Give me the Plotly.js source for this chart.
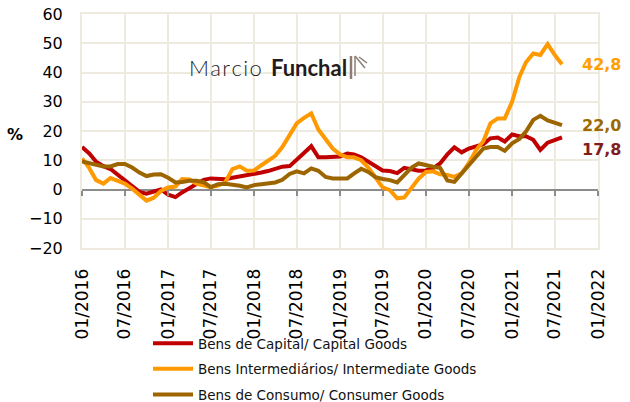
<!DOCTYPE html>
<html><head><meta charset="utf-8">
<script src="https://cdn.plot.ly/plotly-3.0.1.min.js"></script>
<style>html,body{margin:0;padding:0;background:#fff}#chart{width:630px;height:402px}</style>
</head><body><div id="chart"></div>
<script>
const months = [
 '2016-01-01','2016-02-01','2016-03-01','2016-04-01','2016-05-01','2016-06-01','2016-07-01','2016-08-01','2016-09-01','2016-10-01','2016-11-01','2016-12-01',
 '2017-01-01','2017-02-01','2017-03-01','2017-04-01','2017-05-01','2017-06-01','2017-07-01','2017-08-01','2017-09-01','2017-10-01','2017-11-01','2017-12-01',
 '2018-01-01','2018-02-01','2018-03-01','2018-04-01','2018-05-01','2018-06-01','2018-07-01','2018-08-01','2018-09-01','2018-10-01','2018-11-01','2018-12-01',
 '2019-01-01','2019-02-01','2019-03-01','2019-04-01','2019-05-01','2019-06-01','2019-07-01','2019-08-01','2019-09-01','2019-10-01','2019-11-01','2019-12-01',
 '2020-01-01','2020-02-01','2020-03-01','2020-04-01','2020-05-01','2020-06-01','2020-07-01','2020-08-01','2020-09-01','2020-10-01','2020-11-01','2020-12-01',
 '2021-01-01','2021-02-01','2021-03-01','2021-04-01','2021-05-01','2021-06-01','2021-07-01','2021-08-01'];
const capitalGoods = [14.5,12.3,9.5,8,7,5,3,1,-0.8,-1.4,
 -0.6,0,-1.8,-2.6,-1,0.5,2,3.3,3.8,3.8,
 3.5,4,4.4,5,5.4,5.8,6.3,7.2,7.8,8,
 10,12.5,14.8,11,11,11,11.3,12.3,12,11,
 9.4,7.8,6.5,6.3,5.6,7.4,7,6.4,6.5,7.3,
 8.9,12,14.4,12.7,14,14.8,15.5,17.5,17.8,16.4,
 18.8,18.2,18.2,17,13.5,16,17,17.8];
const intermediateGoods = [10.6,7.3,3.2,2,3.9,3,2,0.3,-2,-3.8,
 -2.8,-0.5,0.7,1,3.6,3.4,2,1.5,0.8,1.3,
 2.6,7,7.9,6.4,6.5,8.3,10,11.5,14.5,18.5,
 22.6,24.5,26,20.5,17,14,12,11,11,10,
 7.5,4,0.7,-0.2,-3,-2.7,0.3,3.7,6,6.2,
 5.2,5,4.3,5.5,9,13.5,16.5,22.6,24.3,24.3,
 30,38.5,43.5,46.5,46,49.7,46,42.8];
const consumerGoods = [9.6,9,8.3,7.9,7.9,8.7,8.7,7.5,5.8,4.6,
 5.1,5.2,4,2.4,2.6,3,3,2.5,0.8,1.8,
 2,1.7,1.3,0.7,1.5,1.8,2,2.4,3.3,5.3,
 6.2,5.5,7.2,6.4,4.3,3.8,3.8,3.8,5.4,7.1,
 6,4.2,3.6,3.2,2.4,4.8,7.5,8.9,8.2,7.8,
 7.4,3.1,2.6,5.5,8.5,11.5,14,14.5,14.5,13.2,
 15.8,17.3,19.8,23.8,25.2,23.6,22.7,22];
const seriesNames = ['Bens de Capital/ Capital Goods','Bens Intermediários/ Intermediate Goods','Bens de Consumo/ Consumer Goods'];
const seriesColors = ['#c00000','#ff9900','#9c6500'];
const labelColors = ['#7f1d1d','#ffa000','#9c6a00'];
const lastLabels = ['17,8','42,8','22,0'];
const labelShift = [-12, 0, 0];
const tickVals = ['2016-01-01','2016-07-01','2017-01-01','2017-07-01','2018-01-01','2018-07-01','2019-01-01','2019-07-01','2020-01-01','2020-07-01','2021-01-01','2021-07-01','2022-01-01'];
const tickText = ['01/2016','07/2016','01/2017','07/2017','01/2018','07/2018','01/2019','07/2019','01/2020','07/2020','01/2021','07/2021','01/2022'];

const seriesValues = [capitalGoods, intermediateGoods, consumerGoods];
const gridColor = '#eeeadf';
const F = 'DejaVu Sans, Verdana, sans-serif';

// plot area in pixels: left 82, right 598, top 14, bottom 248
const PX = p => (p - 82) / 516;
const PY = p => (248 - p) / 234;

const traces = seriesValues.map((vals, i) => ({
  x: months, y: vals, type: 'scatter', mode: 'lines', name: seriesNames[i],
  legendgroup: 'g' + i,
  line: {color: seriesColors[i], width: 4}, hoverinfo: 'skip'
}));
traces.push({x: months, y: capitalGoods, xaxis: 'x2', type: 'scatter', mode: 'lines',
  opacity: 0, showlegend: false, hoverinfo: 'skip', line: {width: 0}});

const annotations = seriesValues.map((vals, i) => ({
  x: months[months.length - 1], y: vals[vals.length - 1], xref: 'x', yref: 'y',
  text: lastLabels[i], showarrow: false, xanchor: 'left', yanchor: 'middle',
  xshift: 18, yshift: labelShift[i],
  font: {family: F, size: 16, color: labelColors[i], weight: 'bold'}
}));
annotations.push({x: PX(15), y: PY(134), xref: 'paper', yref: 'paper', text: '%', showarrow: false,
  xanchor: 'center', yanchor: 'middle', font: {family: F, size: 16, color: '#000', weight: 'bold'}});
annotations.push({x: PX(187), y: PY(67), xref: 'paper', yref: 'paper', text: 'M\u200Aa\u200Ar\u200Ac\u200Ai\u200Ao',
  showarrow: false, xanchor: 'left', yanchor: 'middle',
  font: {family: 'Lato, sans-serif', size: 22, color: '#231a1a', weight: 300}});
annotations.push({x: PX(269), y: PY(67), xref: 'paper', yref: 'paper', text: 'Funchal',
  showarrow: false, xanchor: 'left', yanchor: 'middle',
  font: {family: 'Lato, sans-serif', size: 22, color: '#231a1a', weight: 'bold'}});

const logoColor = '#8c7d76';
const shapes = [
  {type: 'rect', xref: 'paper', yref: 'paper', x0: PX(180), x1: PX(372), y0: PY(85), y1: PY(48),
   fillcolor: '#ffffff', line: {width: 0}, layer: 'between'},
  {type: 'line', xref: 'paper', yref: 'paper', x0: PX(351), x1: PX(351), y0: PY(56), y1: PY(79), line: {color: logoColor, width: 2.5}},
  {type: 'line', xref: 'paper', yref: 'paper', x0: PX(355), x1: PX(355), y0: PY(56), y1: PY(76), line: {color: logoColor, width: 1.5}},
  {type: 'line', xref: 'paper', yref: 'paper', x0: PX(355), x1: PX(365), y0: PY(56), y1: PY(68), line: {color: logoColor, width: 1.5}},
  {type: 'line', xref: 'paper', yref: 'paper', x0: PX(359), x1: PX(367), y0: PY(57), y1: PY(63), line: {color: logoColor, width: 1.5}}
];

const layout = {
  width: 630, height: 402,
  margin: {l: 82, r: 32, t: 14, b: 154, autoexpand: false},
  paper_bgcolor: '#fff', plot_bgcolor: '#fff',
  showlegend: true,
  legend: {x: PX(148), y: PY(328), xanchor: 'left', yanchor: 'top', orientation: 'v',
    traceorder: 'grouped', tracegroupgap: 5, itemwidth: 40,
    font: {family: F, size: 13.5, color: '#111'}, bgcolor: 'rgba(0,0,0,0)'},
  xaxis: {type: 'date', range: ['2016-01-01', '2022-01-01'], tickvals: tickVals, ticktext: tickText,
    tickangle: -90, tickfont: {family: F, size: 17, color: '#000'}, automargin: false,
    showgrid: true, gridcolor: gridColor, gridwidth: 2,
    showline: true, linecolor: gridColor, linewidth: 2, mirror: true,
    ticks: '', ticklabelstandoff: 12, zeroline: false, fixedrange: true},
  xaxis2: {type: 'date', overlaying: 'x', matches: 'x', anchor: 'free', position: 0.25, side: 'bottom',
    tickvals: tickVals, showticklabels: false, showgrid: false, zeroline: false, showline: false,
    ticks: 'outside', ticklen: 5, tickwidth: 2, tickcolor: '#8c8c8c'},
  yaxis: {range: [-20, 60], dtick: 10, tick0: 0, tickfont: {family: F, size: 16, color: '#000'}, automargin: false,
    showgrid: true, gridcolor: gridColor, gridwidth: 2,
    showline: true, linecolor: gridColor, linewidth: 2, mirror: true,
    zeroline: true, zerolinecolor: '#8c8c8c', zerolinewidth: 2,
    ticks: '', ticklabelstandoff: 14, fixedrange: true},
  annotations: annotations,
  shapes: shapes
};

Plotly.newPlot('chart', traces, layout, {staticPlot: true, displayModeBar: false});
</script>
</body></html>
